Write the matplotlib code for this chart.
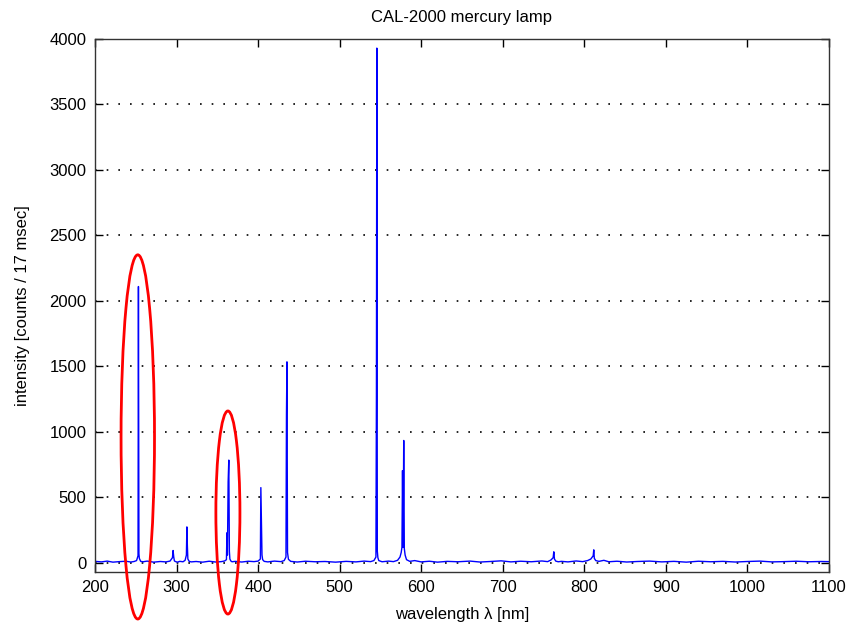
import matplotlib
matplotlib.use("Agg")
import matplotlib.pyplot as plt
from matplotlib.patches import Ellipse

plt.rcParams['font.family'] = ['Liberation Sans', 'DejaVu Sans']

# spectrum (nm, counts)
wavelength = [200, 208, 215, 222, 230, 238, 244, 248, 251, 252.8, 253.3, 253.9, 254.4, 256, 259,
              264, 272, 280, 287, 292, 295, 295.8, 296.6, 297.4, 299, 301, 304, 308, 310.5,
              312.1, 312.7, 313.3, 313.9, 315.5, 318, 324, 332, 340, 348, 355, 359, 361.2,
              361.8, 362.4, 363.3, 364.1, 364.8, 365.4, 366.6, 368, 372, 380, 388, 395, 400,
              402.8, 403.4, 404.1, 404.8, 405.6, 407.5, 412, 420, 428, 432, 434.2, 434.8,
              435.4, 436.1, 437.2, 440, 448, 458, 470, 482, 495, 508, 520, 530, 538, 542,
              544.5, 545.1, 545.6, 546.2, 546.9, 548, 552, 560, 566, 571, 574, 575.5, 576.4,
              577.1, 577.8, 578.6, 579.3, 580.3, 582, 586, 592, 600, 610, 620, 632, 645, 660,
              672, 685, 698, 710, 722, 735, 748, 755, 759, 761.8, 762.6, 763.4, 765, 768, 772,
              780, 790, 798, 804, 808, 810.9, 811.6, 812.3, 814, 818, 824, 830, 840, 852, 865,
              880, 895, 910, 925, 940, 955, 970, 985, 1000, 1015, 1030, 1045, 1060, 1075,
              1090, 1100]
intensity = [12, 8, 14, 6, 10, 13, 7, 11, 18, 55, 2110, 70, 35, 12, 9,
             14, 6, 11, 8, 14, 40, 95, 45, 15, 10, 6, 12, 9, 20,
             60, 275, 130, 30, 12, 8, 11, 6, 13, 7, 10, 15, 25,
             230, 60, 620, 785, 90, 30, 15, 9, 12, 7, 13, 10, 14,
             30, 575, 340, 60, 25, 12, 8, 14, 10, 18, 45, 1130,
             1535, 80, 28, 12, 7, 13, 9, 11, 6, 12, 8, 14, 10, 18,
             45, 1270, 3930, 90, 40, 18, 9, 14, 10, 20, 45, 80, 120,
             705, 120, 935, 110, 60, 25, 12, 18, 8, 13, 6, 12, 9, 14,
             7, 11, 16, 8, 13, 9, 15, 10, 22, 40, 85, 30, 14, 9, 12,
             8, 15, 10, 18, 30, 55, 100, 35, 18, 12, 20, 9, 13, 7, 11,
             14, 8, 12, 6, 13, 9, 12, 7, 11, 14, 8, 10, 13, 9,
             11, 10]

x_ticks = [200, 300, 400, 500, 600, 700, 800, 900, 1000, 1100]
y_ticks = [0, 500, 1000, 1500, 2000, 2500, 3000, 3500, 4000]

# red marker ellipses (centre x, centre y, width nm, height counts)
ellipses = [(252.5, 962, 41, 2780), (363.0, 385, 29.5, 1550)]

fig = plt.figure(figsize=(8.61, 6.28), dpi=100)
ax = fig.add_axes([0.1103, 0.089, 0.8525, 0.849])

ax.plot(wavelength, intensity, color=(0, 0, 1), lw=1.0)

for cx, cy, w, h in ellipses:
    e = Ellipse((cx, cy), w, h, fill=False, edgecolor='red', lw=2, clip_on=False, zorder=5)
    ax.add_patch(e)

ax.set_xlim(200, 1100)
ax.set_ylim(-70, 4000)
ax.set_xticks(x_ticks)
ax.set_yticks(y_ticks)
ax.tick_params(direction='in', length=6, top=True, right=True, labelsize=12, width=1, pad=6)
ax.yaxis.grid(True, linestyle=(0, (1, 6)), color='black', lw=1.2)
for s in ax.spines.values():
    s.set_linewidth(1)
    s.set_color('#333333')

ax.set_title("CAL-2000 mercury lamp", fontsize=12, pad=12)
ax.set_xlabel("wavelength λ [nm]", fontsize=12, labelpad=8)
ax.set_ylabel("intensity [counts / 17 msec]", fontsize=12, labelpad=14)

fig.savefig("out.png", dpi=100)
